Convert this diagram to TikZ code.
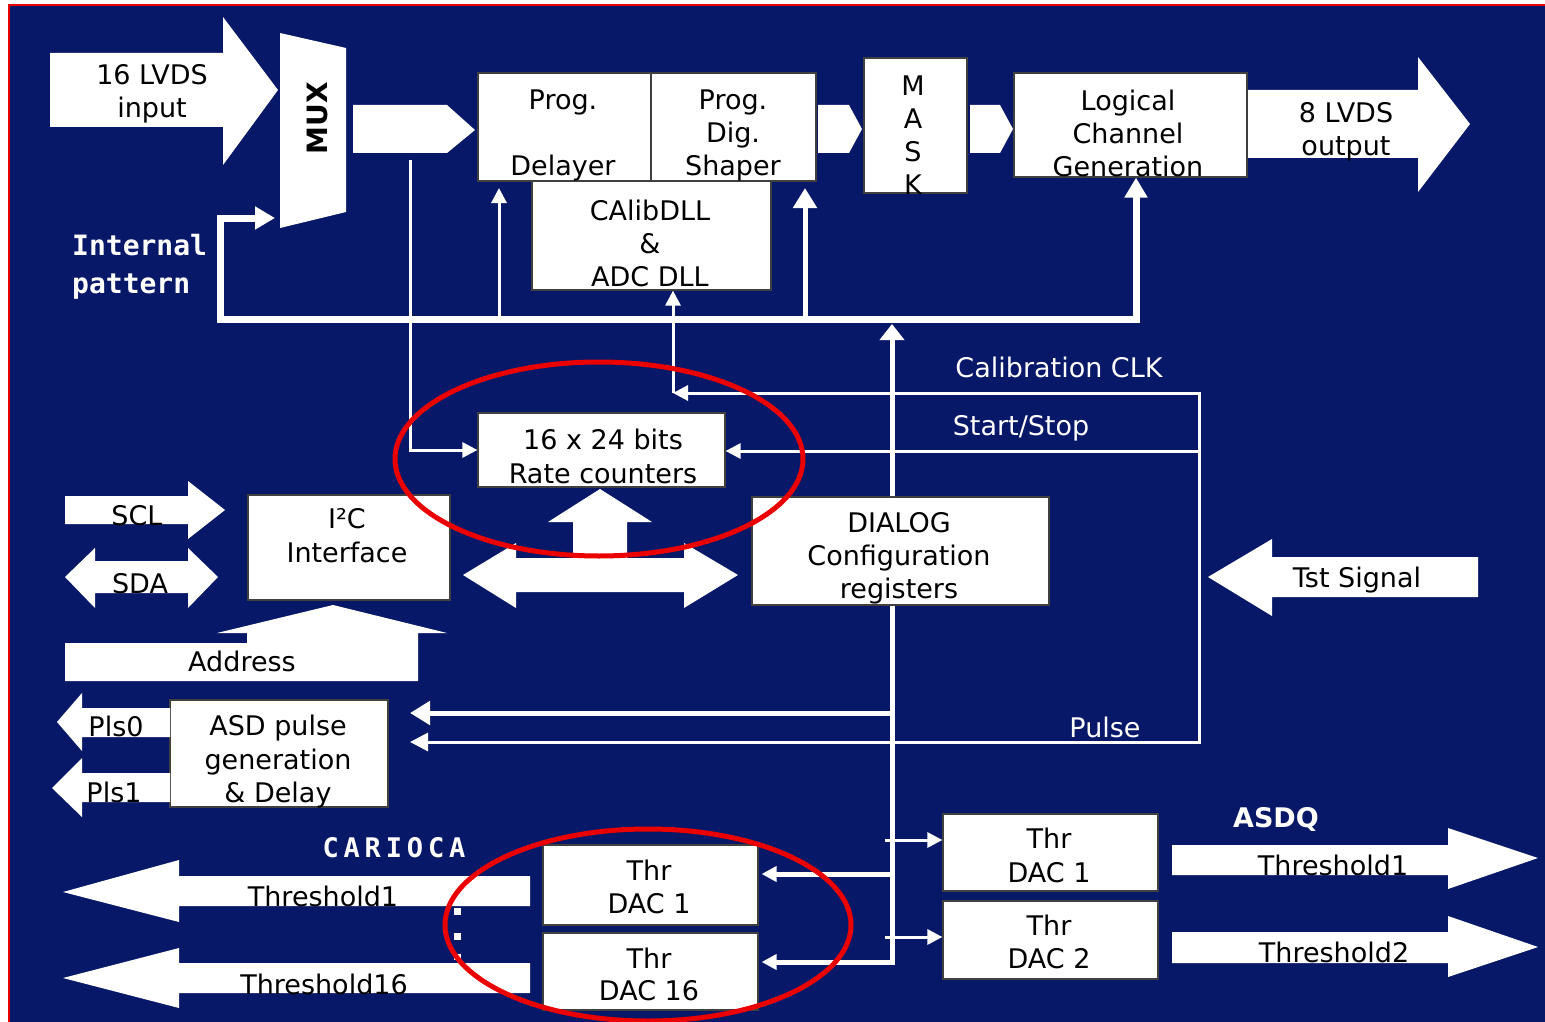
\documentclass[tikz,border=0pt]{standalone}
\usepackage{fontspec}
\setmainfont{DejaVu Sans}
\newfontfamily\monof{DejaVu Sans Mono}
\newfontfamily\monosp[LetterSpace=18]{DejaVu Sans Mono}
\usetikzlibrary{arrows.meta,calc}
\definecolor{bgblue}{RGB}{7,24,104}
\definecolor{redring}{RGB}{235,0,0}
\begin{document}
\begin{tikzpicture}[x=1pt,y=-1pt,
  box/.style={draw=black!75,line width=1.2pt,fill=white,inner sep=0pt},
  txt/.style={font=\fontsize{27}{33}\selectfont,text=black,align=center,inner sep=0pt},
  wtxt/.style={txt,text=white},
  fat/.style={fill=white},
  lnA/.style={draw=white,line width=3pt},
  lnB/.style={draw=white,line width=5pt},
  lnC/.style={draw=white,line width=7pt},
  hS/.style={-{Triangle[length=15pt,width=15pt]}},
  hP/.style={-{Triangle[length=18pt,width=18pt]}},
  hM/.style={-{Triangle[length=20pt,width=23pt]}},
  ring/.style={draw=redring,line width=5pt}]
\useasboundingbox (0,0) rectangle (1545,1022);
\fill[white] (0,0) rectangle (1545,1022);
\fill[bgblue] (9,5) rectangle (1545,1022);
\draw[redring,line width=2pt] (1545,5) -- (9,5) -- (9,1022);

% ---------- boxes ----------
\node[box,minimum width=173pt,minimum height=108pt] (delay) at (564.5,127) {};
\node[box,minimum width=165pt,minimum height=108pt] (shaper) at (733.5,127) {};
\node[box,minimum width=239pt,minimum height=109pt] (calib) at (651.5,235.5) {};
\node[box,minimum width=103pt,minimum height=135pt] (mask) at (915.5,125.5) {};
\node[box,minimum width=233pt,minimum height=104pt] (logic) at (1130.5,125) {};
\node[box,minimum width=247pt,minimum height=74pt] (rate) at (601.5,450) {};
\node[box,minimum width=202pt,minimum height=105pt] (i2c) at (349,547.5) {};
\node[box,minimum width=297pt,minimum height=108pt] (dialog) at (900.5,551) {};
\node[box,minimum width=218pt,minimum height=107pt] (asd) at (279,753.5) {};
\node[box,minimum width=215pt,minimum height=80pt] (cdac1) at (650.5,885) {};
\node[box,minimum width=215pt,minimum height=77pt] (cdac16) at (650.5,971.5) {};
\node[box,minimum width=215pt,minimum height=77pt] (adac1) at (1050.5,852.5) {};
\node[box,minimum width=215pt,minimum height=78pt] (adac2) at (1050.5,940) {};

% ---------- connector coordinates ----------
\coordinate (busL) at (220,319);
\coordinate (busR) at (1136,319);
\coordinate (muxIn) at (275,218);
\coordinate (dIn) at (499,181);
\coordinate (sIn) at (805,181);
\coordinate (cL) at (673,393);
\coordinate (cR) at (1199,393);
\coordinate (sR) at (1199,451);
\coordinate (pR) at (1199,742);
\coordinate (pL) at (410,742);
\coordinate (vP) at (892,713);
\coordinate (qL) at (410,713);
\coordinate (tap) at (410,160);
\coordinate (busV) at (892,324);
\coordinate (v1) at (892,874);
\coordinate (vB) at (892,962);
\coordinate (r1) at (885,840);
\coordinate (r2) at (885,937);

% ---------- connectors ----------
\draw[lnC,{Triangle[length=20pt,width=22pt]}-{Triangle[length=20pt,width=22pt]}]
  (muxIn) -| (busL) -- (busR) -- (busR |- logic.south);
\draw[lnA,hS,shorten >=7pt] (dIn |- busL) -- (dIn);
\draw[lnB,hM,shorten >=7pt] (sIn |- busL) -- (sIn);
\draw[lnA,hS] (cL) -- (cL |- calib.south);
\draw[lnA,hS] (cR) -- (cL);
\draw[lnA,line cap=rect] (cR) -- (pR);
\draw[lnA,hS] (sR) -- (sR -| rate.east);
\draw[lnA,hP] (pR) -- (pL);
\draw[lnB,hM,line cap=round] (vP) -- (qL);
\draw[lnA,hS] (tap) |- (rate.west);
\draw[lnB,-{Triangle[length=16pt,width=24pt]}] (dialog.north -| busV) -- (busV);
\draw[lnB,hS,shorten >=3pt] (dialog.south -| vB) -- (vB) -- (vB -| cdac16.east);
\draw[lnB,hS,shorten >=3pt] (v1) -- (v1 -| cdac1.east);
\draw[lnA,hS] (r1) -- (r1 -| adac1.west);
\draw[lnA,hS] (r2) -- (r2 -| adac2.west);

% ---------- block arrows ----------
\fill[fat] (50,53) -- (223,53) -- (223,17) -- (278,90) -- (223,165) -- (223,127) -- (50,127) -- cycle;
\fill[fat] (280,33) -- (346,48) -- (346,212) -- (280,228) -- cycle;
\fill[fat] (353,105) -- (447,105) -- (475,130) -- (447,153) -- (353,153) -- cycle;
\fill[fat] (818,105) -- (849,105) -- (862,129) -- (849,153) -- (818,153) -- cycle;
\fill[fat] (970,105) -- (1000,105) -- (1013,129) -- (1000,153) -- (970,153) -- cycle;
\fill[fat] (1248,90) -- (1418,90) -- (1418,57) -- (1470,124) -- (1418,192) -- (1418,158) -- (1248,158) -- cycle;
\fill[fat] (463,575) -- (516,543) -- (516,558) -- (573,558) -- (573,522) -- (548,522) -- (600,489)
  -- (652,522) -- (627,522) -- (627,558) -- (684,558) -- (684,543) -- (738,575) -- (684,608)
  -- (684,592) -- (516,592) -- (516,608) -- cycle;
\fill[fat] (65,496) -- (188,496) -- (188,481) -- (225,510) -- (188,539) -- (188,524) -- (65,524) -- cycle;
\fill[fat] (65,577) -- (95,548) -- (95,561) -- (188,561) -- (188,548) -- (218,577) -- (188,608)
  -- (188,593) -- (95,593) -- (95,608) -- cycle;
\fill[fat] (65,681) -- (418,681) -- (418,633) -- (447,633) -- (333,605) -- (217,633) -- (247,633)
  -- (247,643) -- (65,643) -- cycle;
\fill[fat] (57,722) -- (82,693) -- (82,708) -- (170,708) -- (170,737) -- (82,737) -- (82,751) -- cycle;
\fill[fat] (52,788) -- (82,758) -- (82,773) -- (170,773) -- (170,802) -- (82,802) -- (82,817) -- cycle;
\fill[fat] (1208,577) -- (1272,539) -- (1272,557) -- (1478,557) -- (1478,597) -- (1272,597) -- (1272,616) -- cycle;
\fill[fat] (63,892) -- (179,860) -- (179,876) -- (530,876) -- (530,906) -- (179,906) -- (179,922) -- cycle;
\fill[fat] (63,978) -- (179,948) -- (179,963) -- (530,963) -- (530,993) -- (179,993) -- (179,1008) -- cycle;
\fill[fat] (1172,845) -- (1448,845) -- (1448,828) -- (1538,858) -- (1448,889) -- (1448,875) -- (1172,875) -- cycle;
\fill[fat] (1172,932) -- (1448,932) -- (1448,916) -- (1538,947) -- (1448,977) -- (1448,963) -- (1172,963) -- cycle;

% small dots
\fill[white] (454,908) rectangle (461,915);
\fill[white] (454,933) rectangle (461,940);
\fill[white] (454,954) rectangle (461,960);

% ---------- texts ----------
\node[txt,anchor=north] (tIn) at (152,64) {16 LVDS\\input};
\node[txt,font=\bfseries\fontsize{28}{28}\selectfont,rotate=90] (tMux) at (317,118) {MUX};
\node[txt,anchor=north] (tDel) at (563,90) {Prog.\\[33pt]Delayer};
\node[txt,anchor=north] (tSh) at (733,90) {Prog.\\Dig.\\Shaper};
\node[txt,anchor=north] (tCal) at (650,200) {CAlibDLL\\\&\\ADC DLL};
\node[txt,anchor=north] (tMask) at (913,76) {M\\A\\S\\K};
\node[txt,anchor=north] (tLog) at (1128,90) {Logical\\Channel\\Generation};
\node[txt,anchor=north] (tOut) at (1346,102) {8 LVDS\\output};
\node[wtxt,font=\monof\bfseries\fontsize{28}{38}\selectfont,align=left,anchor=north west] (tInt) at (72,234) {Internal\\pattern};
\node[txt,font=\fontsize{27}{34}\selectfont,anchor=north] (tRate) at (603,429) {16 x 24 bits\\Rate counters};
\node[txt,font=\fontsize{27}{34}\selectfont,anchor=north] (tI2c) at (347,508) {I²C\\Interface};
\node[txt,anchor=north] (tDia) at (899,512) {DIALOG\\Configuration\\registers};
\node[txt,font=\fontsize{27}{33.5}\selectfont,anchor=north] (tAsd) at (278,715) {ASD pulse\\generation\\\& Delay};
\node[txt,anchor=north] (tCd1) at (649,860) {Thr\\DAC 1};
\node[txt,font=\fontsize{27}{32}\selectfont,anchor=north] (tCd16) at (649,948) {Thr\\DAC 16};
\node[txt,font=\fontsize{27}{34}\selectfont,anchor=north] (tAd1) at (1049,828) {Thr\\DAC 1};
\node[txt,anchor=north] (tAd2) at (1049,915) {Thr\\DAC 2};

\node[txt,anchor=base] (tScl) at (137,525) {SCL};
\node[txt,anchor=base] (tSda) at (140,593) {SDA};
\node[txt,anchor=base] (tAddr) at (242,671) {Address};
\node[txt,anchor=base] (tP0) at (116,736) {Pls0};
\node[txt,anchor=base] (tP1) at (114,802) {Pls1};
\node[txt,anchor=base] (tCt1) at (323,906) {Threshold1};
\node[txt,anchor=base] (tCt16) at (324,994) {Threshold16};
\node[txt,anchor=base] (tAt1) at (1333,875) {Threshold1};
\node[txt,anchor=base] (tAt2) at (1334,962) {Threshold2};
\node[txt,anchor=base] (tTst) at (1357,587) {Tst Signal};
\node[wtxt,anchor=base] (tClk) at (1059,377) {Calibration CLK};
\node[wtxt,anchor=base] (tSS) at (1021,435) {Start/Stop};
\node[wtxt,anchor=base] (tPul) at (1105,737) {Pulse};
\node[wtxt,font=\monosp\bfseries\fontsize{27}{27}\selectfont,anchor=base] (tCar) at (394,857) {CARIOCA};
\node[wtxt,font=\bfseries\fontsize{27}{27}\selectfont,anchor=base] (tAsdq) at (1276,827) {ASDQ};

% ---------- red rings ----------
\draw[ring] (599,459) ellipse [x radius=204pt,y radius=97pt];
\draw[ring] (648,925) ellipse [x radius=203pt,y radius=96pt];
\end{tikzpicture}
\end{document}
